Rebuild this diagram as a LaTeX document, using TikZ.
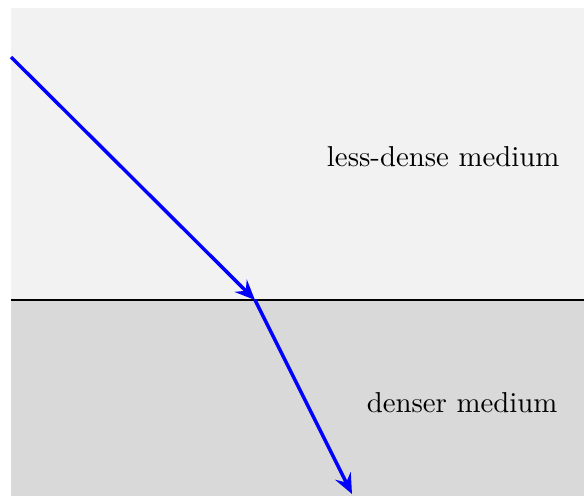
\documentclass[tikz,border=0pt]{standalone}
\usetikzlibrary{arrows.meta}
\begin{document}
\begin{tikzpicture}[x=0.3472pt,y=-0.3472pt,
  ray/.style={draw=blue,line width=1.2pt,-{Stealth[length=7pt,width=6pt,inset=2.5pt]}},
  boundary/.style={draw=black,line width=1pt},
  lbl/.style={anchor=east,inner sep=0pt}]
\useasboundingbox (0,0) rectangle (584,496);
\fill[gray!10] (11,8) rectangle (584,300);
\fill[gray!30] (11,300) rectangle (584,496);
\coordinate (L) at (11,300);
\coordinate (R) at (584,300);
\draw[boundary] (L) -- (R);
\coordinate (A) at (11,57);
\coordinate (B) at (255,300);
\coordinate (C) at (352,494);
\draw[ray] (A) -- (B);
\draw[ray] (B) -- (C);
\node[lbl] (t1) at (560,157) {less-dense medium};
\node[lbl] (t2) at (558,403) {denser medium};
\end{tikzpicture}
\end{document}
